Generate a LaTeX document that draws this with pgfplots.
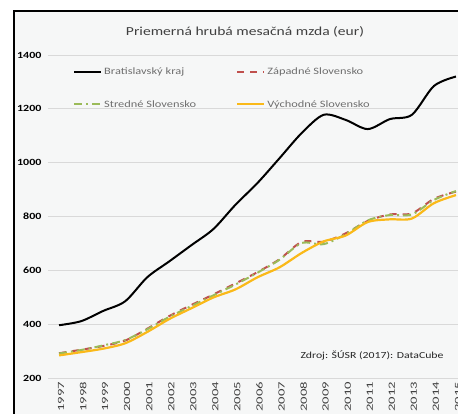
\documentclass[border=0pt]{standalone}
\usepackage{fontspec}
\setmainfont{Carlito}[FakeStretch=1.27]
\newfontfamily\xlabfont{Carlito}[FakeStretch=1.55]
\usepackage{pgfplots}
\pgfplotsset{compat=1.18}
\usepackage{pgfplotstable}

\definecolor{bg}{RGB}{246,247,247}
\definecolor{gridc}{RGB}{217,217,217}
\definecolor{txtc}{RGB}{64,64,64}
\definecolor{legc}{RGB}{110,110,110}
\definecolor{zapc}{RGB}{192,80,77}
\definecolor{strc}{RGB}{155,187,89}
\definecolor{vycc}{RGB}{250,185,25}

% rok: index 0 = 1997
\pgfplotstableread{
i  brat  zap  str  vych
0  397   293  292  285
1  412   306  305  297
2  450   320  322  310
3  486   340  342  330
4  575   384  382  372
5  634   431  428  420
6  694   472  468  460
7  754   511  508  500
8  844   552  548  530
9  925   594  592  575
10 1017  642  640  612
11 1110  706  702  665
12 1178  707  698  708
13 1159  738  735  730
14 1125  784  786  780
15 1162  808  806  790
16 1178  812  808  793
17 1285  866  862  850
18 1320  893  895  880
}\mzdy

\begin{document}
\begin{tikzpicture}
\useasboundingbox (0,0) rectangle (458bp,414bp);
\clip (0,0) rectangle (458bp,414bp);
\fill[white] (0,0) rectangle (458bp,414bp);
\filldraw[fill=bg, draw=black, line width=2bp] (13.5bp,403bp) rectangle (520bp,-60bp);

\begin{axis}[
    at={(48bp,35.7bp)}, anchor=south west,
    scale only axis,
    width=419bp, height=323.3bp,
    xmin=-0.5, xmax=18.5,
    ymin=200, ymax=1400,
    ytick={200,400,...,1400},
    xtick={0,...,18},
    xticklabels={1997,1998,1999,2000,2001,2002,2003,2004,2005,2006,2007,2008,2009,2010,2011,2012,2013,2014,2015},
    axis line style={draw=none},
    major tick length=0pt,
    ymajorgrids=true,
    grid style={gridc, line width=0.8bp},
    /pgf/number format/assume math mode=true,
    /pgf/number format/1000 sep={},
    yticklabel style={font=\bfseries\fontsize{9.5}{9.5}\selectfont, text=black, xshift=-3bp},
    xticklabel style={font=\xlabfont\fontsize{9.5}{9.5}\selectfont, text=txtc, rotate=90, anchor=east, yshift=-2bp},
    legend columns=2,
    legend style={at={(25bp,313bp)}, anchor=north west, draw=none, fill=none,
        font=\fontsize{9.8}{10.5}\selectfont, text=legc,
        /tikz/every even column/.append style={column sep=38bp},
        row sep=20.5bp, inner sep=0pt},
    legend cell align=left,
    legend image code/.code={\draw[#1] (0bp,0bp) -- (27bp,0bp);},
    every axis plot/.append style={smooth, tension=0.5},
]
\addplot[black, line width=2bp] table[x=i, y=brat] {\mzdy};
\addlegendentry{Bratislavský kraj}
\addplot[zapc, line width=2bp, dash pattern=on 7bp off 6bp] table[x=i, y=zap] {\mzdy};
\addlegendentry{Západné Slovensko}
\addplot[strc, line width=2bp, dash pattern=on 8bp off 4bp on 2bp off 4bp] table[x=i, y=str] {\mzdy};
\addlegendentry{Stredné Slovensko}
\addplot[vycc, line width=2.2bp] table[x=i, y=vych] {\mzdy};
\addlegendentry{Východné Slovensko}
\end{axis}

\node[text=txtc, font=\fontsize{12.3}{12.3}\selectfont] at (245bp,382bp) {Priemerná hrubá mesačná mzda (eur)};
\node[text=black!85, font=\fontsize{9.3}{9.3}\selectfont, anchor=west] at (297bp,59bp) {Zdroj: ŠÚSR (2017): DataCube};
\end{tikzpicture}
\end{document}
